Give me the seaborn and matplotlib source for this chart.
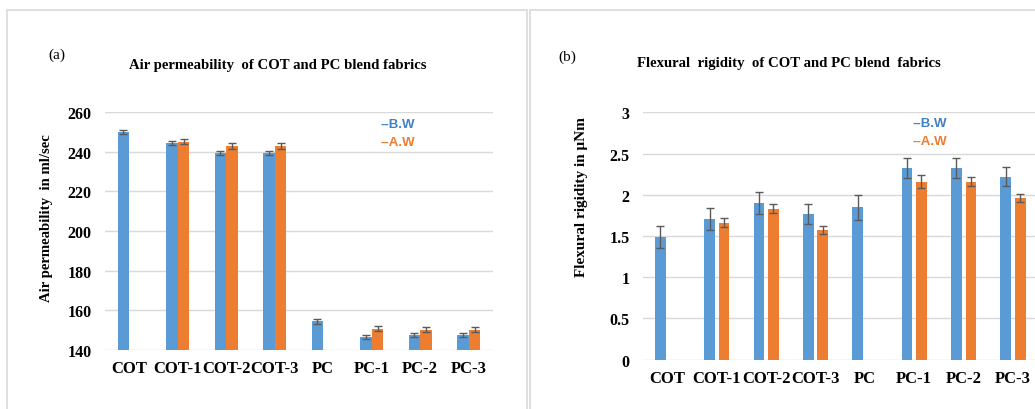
import numpy as np
import pandas as pd
import matplotlib
matplotlib.use("Agg")
import matplotlib.pyplot as plt
import seaborn as sns
from matplotlib.patches import Rectangle
from matplotlib.colors import to_rgba
from matplotlib.container import BarContainer

# ---------------- data ----------------
categories = ["COT", "COT-1", "COT-2", "COT-3", "PC", "PC-1", "PC-2", "PC-3"]
hue_levels = ["B.W", "A.W"]

air_bw = [250.0, 244.6, 239.5, 239.6, 154.4, 146.3, 147.4, 147.4]
air_aw = [np.nan, 245.1, 243.0, 243.1, np.nan, 150.5, 150.2, 150.2]
air_bw_err = [1.2, 1.1, 0.9, 1.0, 1.35, 1.1, 1.1, 1.1]
air_aw_err = [np.nan, 1.2, 1.4, 1.4, np.nan, 1.25, 1.2, 1.2]

flex_bw = [1.49, 1.71, 1.90, 1.77, 1.85, 2.32, 2.32, 2.22]
flex_aw = [np.nan, 1.66, 1.83, 1.57, np.nan, 2.16, 2.16, 1.96]
flex_bw_err = [0.13, 0.135, 0.13, 0.12, 0.15, 0.12, 0.12, 0.115]
flex_aw_err = [np.nan, 0.055, 0.055, 0.05, np.nan, 0.077, 0.055, 0.047]

air_yticks = [140, 160, 180, 200, 220, 240, 260]
air_ytick_labels = ["140", "160", "180", "200", "220", "240", "260"]
flex_yticks = [0, 0.5, 1, 1.5, 2, 2.5, 3]
flex_ytick_labels = ["0", "0.5", "1", "1.5", "2", "2.5", "3"]

title_a = "Air permeability  of COT and PC blend fabrics"
title_b = "Flexural  rigidity  of COT and PC blend  fabrics"
ylabel_a = "Air permeability  in ml/sec"
ylabel_b = "Flexural rigidity in \u03bcNm"

# ---------------- style ----------------
BLUE = "#5B9BD5"
ORANGE = "#ED7D31"
BLUE_TXT = "#4080C6"
GRID = "#D9D9D9"
ERR = "#5A5A5A"
SERIF = "Liberation Serif"

plt.rcParams["font.family"] = [SERIF, "DejaVu Serif"]

fig = plt.figure(figsize=(10.35, 4.1), dpi=100)


def draw(ax, bw, aw, bw_err, aw_err, yticks, ylabels, ylim, width, gap):
    df = pd.DataFrame({
        "category": categories * 2,
        "series": [hue_levels[0]] * len(categories) + [hue_levels[1]] * len(categories),
        "value": list(bw) + list(aw),
    }).dropna()
    sns.barplot(data=df, x="category", y="value", hue="series",
                order=categories, hue_order=hue_levels,
                palette=[BLUE, ORANGE], saturation=1, width=width, gap=gap,
                errorbar=None, linewidth=0, legend=False, ax=ax)
    errs = {hue_levels[0]: bw_err, hue_levels[1]: aw_err}
    blue_rgba = to_rgba(BLUE)
    bar_containers = [c for c in ax.containers if isinstance(c, BarContainer)]
    xs, ys, es = [], [], []
    for cont in bar_containers:
        for bar in cont.patches:
            h = bar.get_height()
            if not np.isfinite(h):
                continue
            cx = bar.get_x() + bar.get_width() / 2
            idx = int(round(cx))
            lvl = hue_levels[0] if np.allclose(bar.get_facecolor(), blue_rgba, atol=0.02) else hue_levels[1]
            xs.append(cx)
            ys.append(bar.get_y() + h)
            es.append(errs[lvl][idx])
    ax.errorbar(xs, ys, yerr=es, fmt="none", ecolor=ERR, elinewidth=1.0,
                capsize=3, capthick=1.0, zorder=5)
    ax.set_ylim(*ylim)
    ax.set_yticks(yticks)
    ax.set_yticklabels(ylabels)
    ax.set_xlim(-0.5, len(categories) - 0.5)
    ax.set_xlabel("")
    ax.set_ylabel("")
    for s in ax.spines.values():
        s.set_visible(False)
    ax.grid(axis="y", color=GRID, linewidth=1.0)
    ax.grid(axis="x", visible=False)
    ax.set_axisbelow(True)
    ax.tick_params(axis="both", length=0)
    ax.tick_params(axis="x", pad=7.5, labelsize=12)
    ax.tick_params(axis="y", pad=9.5, labelsize=11.5)
    for lab in ax.get_xticklabels() + ax.get_yticklabels():
        lab.set_fontweight("bold")
        lab.set_fontfamily(SERIF)


ax1 = fig.add_axes([105 / 1035, 1 - 350.7 / 410, 388 / 1035, 237.4 / 410])
draw(ax1, air_bw, air_aw, air_bw_err, air_aw_err, air_yticks, air_ytick_labels,
     (140, 260), 0.48, 0)

ax2 = fig.add_axes([642.7 / 1035, 1 - 360.7 / 410, 395 / 1035, 247.4 / 410])
draw(ax2, flex_bw, flex_aw, flex_bw_err, flex_aw_err, flex_yticks, flex_ytick_labels,
     (0, 3), 0.584, 0.26)

# legend-like texts
for ax, x, y1, y2 in [(ax1, 0.709, 0.951, 0.875), (ax2, 0.682, 0.957, 0.884)]:
    ax.text(x, y1, "--" + hue_levels[0], transform=ax.transAxes, color=BLUE_TXT,
            fontsize=9.5, fontweight="bold", family="Liberation Sans", va="center", ha="left")
    ax.text(x, y2, "--" + hue_levels[1], transform=ax.transAxes, color=ORANGE,
            fontsize=9.5, fontweight="bold", family="Liberation Sans", va="center", ha="left")

# titles, panel letters, y labels
fig.text(278 / 1035, 1 - 65.7 / 410, title_a, ha="center", va="center",
         fontsize=10.6, fontweight="bold", family=SERIF)
fig.text(788.7 / 1035, 1 - 63.3 / 410, title_b, ha="center", va="center",
         fontsize=10.6, fontweight="bold", family=SERIF)
fig.text(57 / 1035, 1 - 55 / 410, "(a)", ha="center", va="center", fontsize=11, family=SERIF)
fig.text(567.5 / 1035, 1 - 57 / 410, "(b)", ha="center", va="center", fontsize=11, family=SERIF)
fig.text(46.7 / 1035, 1 - 218 / 410, ylabel_a, ha="center", va="center", rotation=90,
         fontsize=10.6, fontweight="bold", family=SERIF)
fig.text(581 / 1035, 1 - 197.5 / 410, ylabel_b, ha="center", va="center", rotation=90,
         fontsize=11, fontweight="bold", family=SERIF)

# panel frames
fig.add_artist(Rectangle((7 / 1035, -0.1), (527 - 7) / 1035, 0.1 + 1 - 11 / 410,
                         transform=fig.transFigure, fill=False, edgecolor=GRID, lw=1.2))
fig.add_artist(Rectangle((530 / 1035, -0.1), 0.6, 0.1 + 1 - 11 / 410,
                         transform=fig.transFigure, fill=False, edgecolor=GRID, lw=1.2))

fig.savefig("out.png", dpi=100, facecolor="white")
